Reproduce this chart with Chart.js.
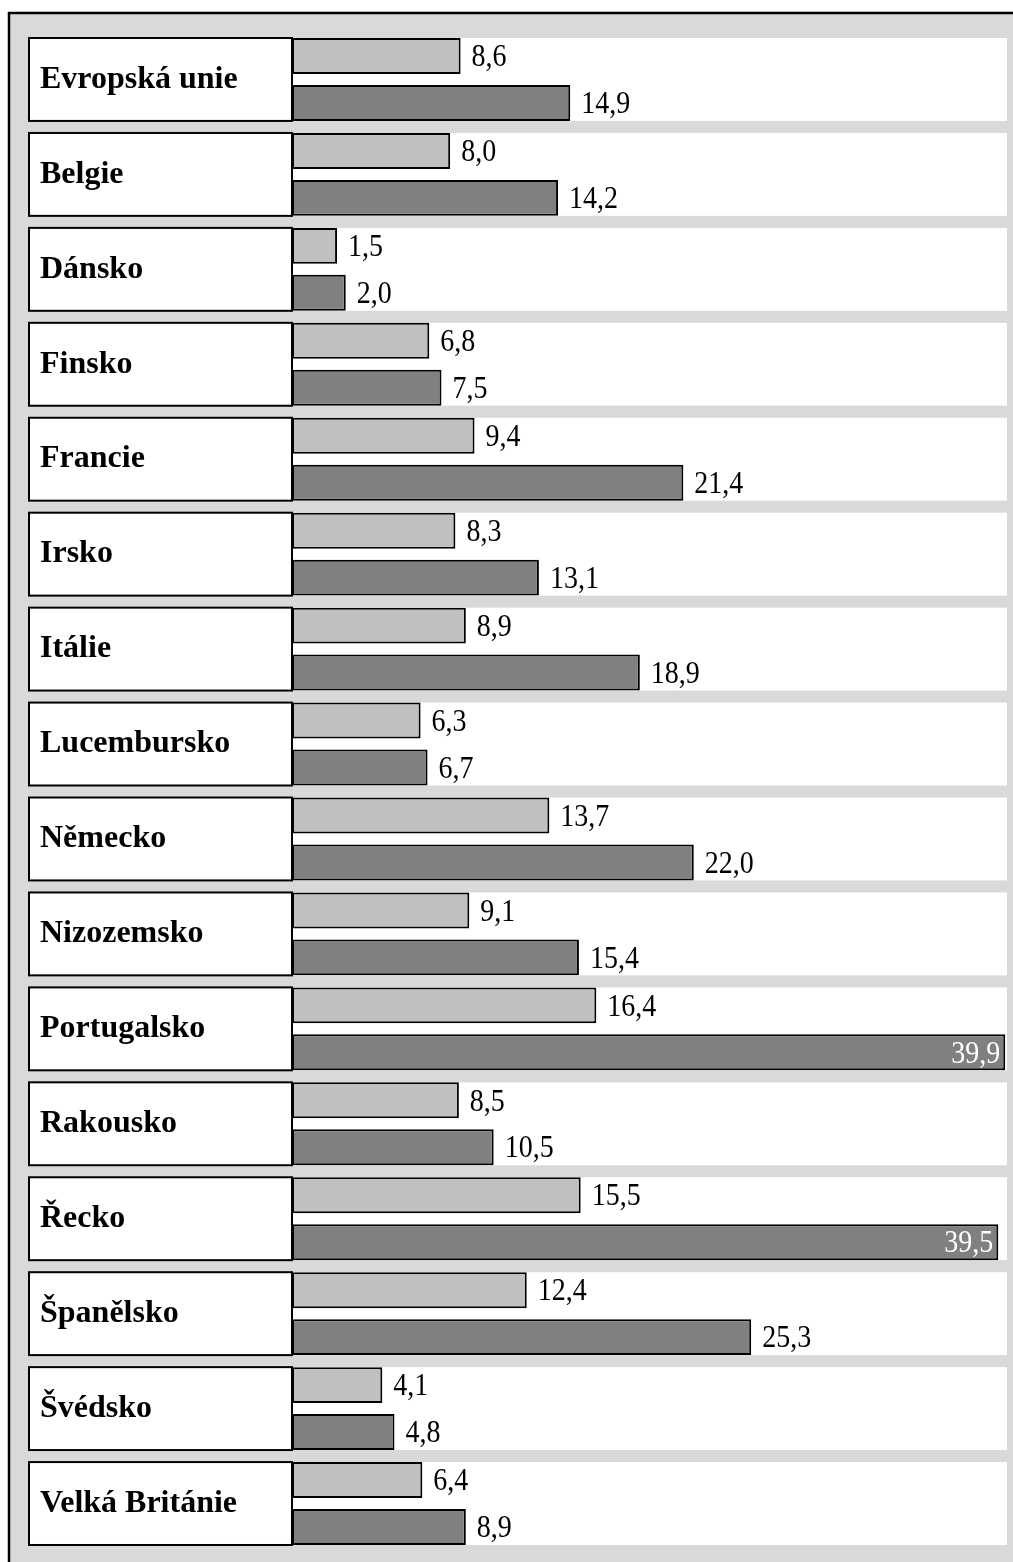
<!DOCTYPE html>
<html>
<head>
<meta charset="utf-8">
<script src="https://cdn.jsdelivr.net/npm/chart.js@4.4.1/dist/chart.umd.min.js"></script>
<style>
  html, body { margin: 0; padding: 0; background: #ffffff; }
  #wrap { position: relative; width: 1013px; height: 1562px; }
  canvas { display: block; }
</style>
</head>
<body>
<div id="wrap"><canvas id="c" width="1013" height="1562"></canvas></div>
<script>
const categories = [
  "Evropská unie", "Belgie", "Dánsko", "Finsko", "Francie", "Irsko", "Itálie",
  "Lucembursko", "Německo", "Nizozemsko", "Portugalsko", "Rakousko", "Řecko",
  "Španělsko", "Švédsko", "Velká Británie"
];
const seriesLight = [8.6, 8.0, 1.5, 6.8, 9.4, 8.3, 8.9, 6.3, 13.7, 9.1, 16.4, 8.5, 15.5, 12.4, 4.1, 6.4];
const seriesDark  = [14.9, 14.2, 2.0, 7.5, 21.4, 13.1, 18.9, 6.7, 22.0, 15.4, 39.9, 10.5, 39.5, 25.3, 4.8, 8.9];

const X_MIN = -1.09;
const X_MAX = 40.0;

const fmt = v => v.toFixed(1).replace('.', ',');

const framePlugin = {
  id: 'frame',
  beforeDraw(chart) {
    const ctx = chart.ctx;
    const W = chart.width, H = chart.height;
    const ca = chart.chartArea;
    ctx.save();
    ctx.fillStyle = '#ffffff';
    ctx.fillRect(0, 0, W, H);
    ctx.fillStyle = '#d9d9d9';
    ctx.fillRect(9, 13, W - 9, H - 13);
    ctx.strokeStyle = '#000000';
    ctx.lineWidth = 2.5;
    ctx.beginPath();
    ctx.moveTo(9, H);
    ctx.lineTo(9, 13);
    ctx.lineTo(W, 13);
    ctx.stroke();
    const m0 = chart.getDatasetMeta(0), m1 = chart.getDatasetMeta(1);
    const cellLeft = 29;
    for (let i = 0; i < categories.length; i++) {
      const b0 = m0.data[i], b1 = m1.data[i];
      const top = b0.y - b0.height / 2;
      const bottom = b1.y + b1.height / 2;
      ctx.fillStyle = '#ffffff';
      ctx.fillRect(cellLeft, top, ca.right - cellLeft, bottom - top);
      ctx.strokeStyle = '#000000';
      ctx.lineWidth = 2;
      ctx.strokeRect(cellLeft, top, ca.left - cellLeft, bottom - top);
    }
    ctx.restore();
  },
  afterDatasetsDraw(chart) {
    const ctx = chart.ctx;
    const ca = chart.chartArea;
    ctx.save();
    ctx.font = '28px "Liberation Serif", "Times New Roman", serif';
    ctx.textBaseline = 'middle';
    chart.data.datasets.forEach((ds, di) => {
      const meta = chart.getDatasetMeta(di);
      meta.data.forEach((bar, i) => {
        const txt = fmt(ds.data[i]);
        const w = ctx.measureText(txt).width;
        const y = bar.y + 2;
        let x, align, color;
        if (bar.x + 11 + w > ca.right) {
          x = Math.min(bar.x, ca.right) - 5; align = 'right'; color = '#ffffff';
        } else {
          x = bar.x + 11; align = 'left'; color = '#000000';
        }
        ctx.save();
        ctx.translate(x, y);
        ctx.scale(1, 1.12);
        ctx.fillStyle = color;
        ctx.textAlign = align;
        ctx.fillText(txt, 0, 0);
        ctx.restore();
      });
    });
    ctx.restore();
  }
};

new Chart(document.getElementById('c'), {
  type: 'bar',
  data: {
    labels: categories,
    datasets: [
      { data: seriesLight, backgroundColor: '#c0c0c0', borderColor: '#000000', borderWidth: 2, borderSkipped: false },
      { data: seriesDark,  backgroundColor: '#808080', borderColor: '#000000', borderWidth: 2, borderSkipped: false }
    ]
  },
  options: {
    indexAxis: 'y',
    responsive: false,
    animation: false,
    events: [],
    layout: { padding: { left: 40, top: 32, right: 6, bottom: 11 } },
    datasets: { bar: { base: X_MIN, categoryPercentage: 0.989, barPercentage: 0.766 } },
    plugins: { legend: { display: false }, tooltip: { enabled: false } },
    scales: {
      x: { type: 'linear', min: X_MIN, max: X_MAX, display: false },
      y: {
        position: 'left',
        grid: { display: false },
        border: { display: false },
        ticks: {
          crossAlign: 'far',
          padding: 0,
          color: '#000000',
          font: { family: '"Liberation Serif", "Times New Roman", serif', size: 32, weight: 'bold' }
        },
        afterFit(scale) {
          scale.width = 252;
          scale.paddingTop = 0;
          scale.paddingBottom = 0;
        }
      }
    }
  },
  plugins: [framePlugin]
});
</script>
</body>
</html>
